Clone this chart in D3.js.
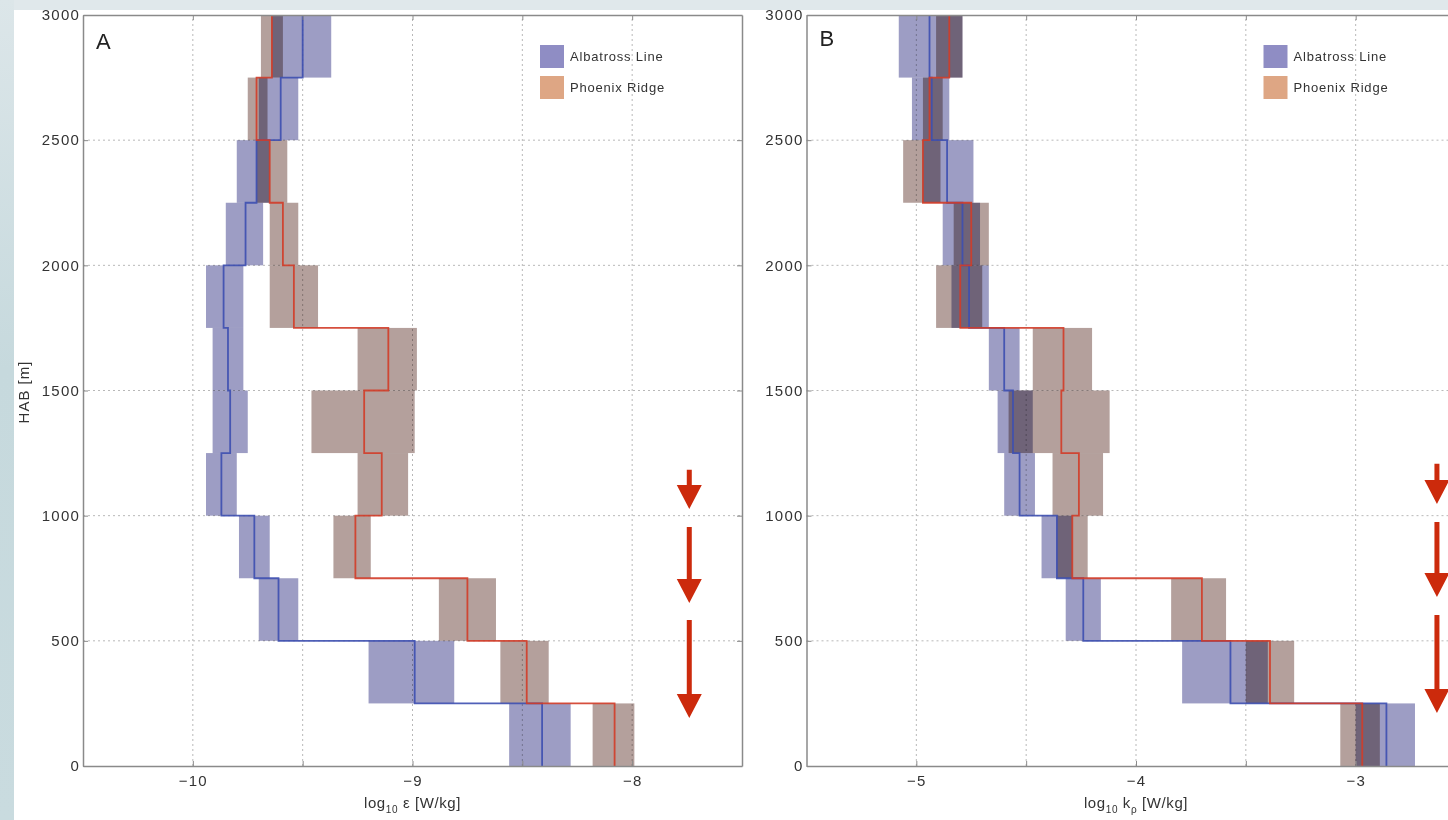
<!DOCTYPE html>
<html lang="en">
<head>
<meta charset="UTF-8">
<title>Dissipation and diffusivity profiles</title>
<style>
    body { margin: 0; padding: 0; background: #fff; }
    svg { display: block; font-family: "Liberation Sans", Arial, sans-serif; }
    .tick text { fill: #333; letter-spacing: 1.2px; }
    .axis path, .axis line { stroke: #8a8a8a; }
    .axis path { stroke-width: 1.5px; }
    .grid line { stroke: #b8b8b8; stroke-dasharray: 2,3; }
    .band { mix-blend-mode: multiply; }
</style>
</head>
<body>
<svg id="chart" width="1448" height="820"></svg>
<script src="https://d3js.org/d3.v7.min.js"></script>
<script>
    // bin edges, height above bottom [m]
    const habEdges = [0, 250, 500, 750, 1000, 1250, 1500, 1750, 2000, 2250, 2500, 2750, 3000];
    const habTicks = [0, 500, 1000, 1500, 2000, 2500, 3000];

    const seriesNames = ["Albatross Line", "Phoenix Ridge"];

    // panel A : log10 epsilon, bottom bin first
    const epsTicks = [-10, -9.5, -9, -8.5, -8];
    const epsLabels = ["−10", "", "−9", "", "−8"];
    const epsAlbLo  = [-8.56, -9.20, -9.70, -9.79, -9.94, -9.91, -9.91, -9.94, -9.85, -9.80, -9.70, -9.64];
    const epsAlbMed = [-8.41, -8.99, -9.61, -9.72, -9.87, -9.83, -9.84, -9.86, -9.76, -9.71, -9.60, -9.50];
    const epsAlbHi  = [-8.28, -8.81, -9.52, -9.65, -9.80, -9.75, -9.77, -9.77, -9.68, -9.65, -9.52, -9.37];
    const epsPhxLo  = [-8.18, -8.60, -8.88, -9.36, -9.25, -9.46, -9.25, -9.65, -9.65, -9.71, -9.75, -9.69];
    const epsPhxMed = [-8.08, -8.48, -8.75, -9.26, -9.14, -9.22, -9.11, -9.54, -9.59, -9.65, -9.71, -9.64];
    const epsPhxHi  = [-7.99, -8.38, -8.62, -9.19, -9.02, -8.99, -8.98, -9.43, -9.52, -9.57, -9.66, -9.59];

    // panel B : log10 k_rho, bottom bin first
    const kTicks = [-5, -4.5, -4, -3.5, -3, -2.5];
    const kLabels = ["−5", "", "−4", "", "−3", ""];
    const kAlbLo  = [-3.00, -3.79, -4.32, -4.43, -4.60, -4.63, -4.67, -4.84, -4.88, -4.97, -5.02, -5.08];
    const kAlbMed = [-2.86, -3.57, -4.24, -4.36, -4.53, -4.56, -4.60, -4.76, -4.79, -4.86, -4.93, -4.94];
    const kAlbHi  = [-2.73, -3.40, -4.16, -4.29, -4.46, -4.47, -4.53, -4.67, -4.71, -4.74, -4.85, -4.79];
    const kPhxLo  = [-3.07, -3.50, -3.84, -4.36, -4.38, -4.58, -4.47, -4.91, -4.83, -5.06, -4.97, -4.91];
    const kPhxMed = [-2.97, -3.39, -3.70, -4.29, -4.26, -4.34, -4.33, -4.80, -4.75, -4.97, -4.94, -4.85];
    const kPhxHi  = [-2.89, -3.28, -3.59, -4.22, -4.15, -4.12, -4.20, -4.70, -4.67, -4.89, -4.88, -4.79];

    // red arrows: [x, top, tip] in data units
    const arrowsA = [[-7.74, 1183, 1027], [-7.74, 955, 651], [-7.74, 583, 192]];
    const arrowsB = [[-2.63, 1207, 1047], [-2.63, 975, 675], [-2.63, 603, 212]];

    const bandColor = ["#9d9dc4", "#b4a09c"];
    const lineColor = ["#3d4fb0", "#d23c28"];
    const swatchColor = ["#8f8dc4", "#dea684"];

    const svg = d3.select("#chart");

    // page background
    const grad = svg.append("defs").append("linearGradient")
        .attr("id", "side").attr("x1", 0).attr("y1", 0).attr("x2", 0).attr("y2", 1);
    grad.append("stop").attr("offset", "0%").attr("stop-color", "#dce6e9");
    grad.append("stop").attr("offset", "45%").attr("stop-color", "#c6d9dd");
    grad.append("stop").attr("offset", "100%").attr("stop-color", "#c9dbdf");

    svg.append("rect").attr("width", 1448).attr("height", 820).attr("fill", "#fff");

    const y = d3.scaleLinear().domain([0, 3000]).range([766, 15]);

    function drawPanel(p) {
        const x = d3.scaleLinear().domain(p.domain).range(p.range);
        const g = svg.append("g");
        const x0 = p.range[0], x1 = p.range[1];

        // grid
        const grid = g.append("g").attr("class", "grid");
        grid.selectAll(".gx").data(p.ticks).enter().append("line")
            .attr("x1", d => x(d)).attr("x2", d => x(d))
            .attr("y1", y(0)).attr("y2", y(3000));
        grid.selectAll(".gy").data(habTicks.slice(1, -1)).enter().append("line")
            .attr("x1", x0).attr("x2", x1)
            .attr("y1", d => y(d)).attr("y2", d => y(d));

        // bands
        const bands = g.append("g");
        p.series.forEach((s, k) => {
            bands.selectAll(".b" + k).data(s.lo).enter().append("rect")
                .attr("class", "band")
                .attr("x", (d, i) => x(Math.min(s.lo[i], s.hi[i])))
                .attr("width", (d, i) => Math.abs(x(s.hi[i]) - x(s.lo[i])))
                .attr("y", (d, i) => y(habEdges[i + 1]))
                .attr("height", (d, i) => y(habEdges[i]) - y(habEdges[i + 1]))
                .attr("fill", bandColor[k]);
        });

        // median step lines
        const line = d3.line().x(d => x(d[0])).y(d => y(d[1]));
        p.series.forEach((s, k) => {
            const pts = [];
            s.med.forEach((m, i) => {
                pts.push([m, habEdges[i]]);
                pts.push([m, habEdges[i + 1]]);
            });
            g.append("path").datum(pts)
                .attr("d", line)
                .attr("fill", "none")
                .attr("stroke", lineColor[k])
                .attr("stroke-width", 1.8)
                .attr("opacity", 0.9);
        });

        // axes
        g.append("g").attr("class", "axis")
            .attr("transform", "translate(0," + y(0) + ")")
            .call(d3.axisBottom(x).tickValues(p.ticks).tickSize(-5).tickSizeOuter(0).tickPadding(9)
                .tickFormat((d, i) => p.labels[i]));
        g.append("g").attr("class", "axis")
            .attr("transform", "translate(0," + y(3000) + ")")
            .call(d3.axisTop(x).tickValues(p.ticks).tickSize(-5).tickSizeOuter(0).tickFormat(""));
        g.append("g").attr("class", "axis")
            .attr("transform", "translate(" + x0 + ",0)")
            .call(d3.axisLeft(y).tickValues(habTicks).tickSize(-5).tickSizeOuter(0).tickPadding(3)
                .tickFormat(d3.format("d")));
        g.append("g").attr("class", "axis")
            .attr("transform", "translate(" + x1 + ",0)")
            .call(d3.axisRight(y).tickValues(habTicks).tickSize(-5).tickSizeOuter(0).tickFormat(""));
        g.selectAll(".axis .tick text").style("font-size", "15px");

        // panel letter
        g.append("text")
            .attr("x", x0 + 13).attr("y", p.letterY)
            .attr("font-size", 22).attr("fill", "#222")
            .text(p.letter);

        // legend
        const leg = g.append("g").attr("transform", "translate(" + (x0 + 457) + ",45)");
        seriesNames.forEach((name, k) => {
            leg.append("rect").attr("x", 0).attr("y", k * 31)
                .attr("width", 24).attr("height", 23)
                .attr("fill", swatchColor[k]);
            leg.append("text").attr("x", 30).attr("y", k * 31 + 16)
                .attr("font-size", 13).attr("letter-spacing", 0.8).attr("fill", "#333")
                .text(name);
        });

        // x label
        const lab = g.append("text")
            .attr("x", (x0 + x1) / 2).attr("y", 808)
            .attr("text-anchor", "middle")
            .attr("font-size", 15).attr("letter-spacing", 0.6).attr("fill", "#333");
        lab.append("tspan").text("log");
        lab.append("tspan").attr("dy", 5).attr("font-size", 10).text("10");
        lab.append("tspan").attr("dy", -5).text(" " + p.sym);
        if (p.sub) {
            lab.append("tspan").attr("dy", 5).attr("font-size", 10).text(p.sub);
            lab.append("tspan").attr("dy", -5).text(" [W/kg]");
        } else {
            lab.append("tspan").text(" [W/kg]");
        }

        // arrows
        p.arrows.forEach(a => {
            const cx = x(a[0]), yt = y(a[1]), yp = y(a[2]);
            const hh = 24, hw = 12.5, sw = 2.5;
            g.append("path")
                .attr("d", "M" + (cx - sw) + "," + yt + "L" + (cx + sw) + "," + yt +
                    "L" + (cx + sw) + "," + (yp - hh) + "L" + (cx + hw) + "," + (yp - hh) +
                    "L" + cx + "," + yp + "L" + (cx - hw) + "," + (yp - hh) +
                    "L" + (cx - sw) + "," + (yp - hh) + "Z")
                .attr("fill", "#cc2a0c");
        });
    }

    drawPanel({
        domain: [-10.5, -7.5], range: [83, 742],
        ticks: epsTicks, labels: epsLabels,
        series: [
            { lo: epsAlbLo, med: epsAlbMed, hi: epsAlbHi },
            { lo: epsPhxLo, med: epsPhxMed, hi: epsPhxHi }
        ],
        letter: "A", letterY: 49, sym: "ε", sub: null,
        arrows: arrowsA
    });

    drawPanel({
        domain: [-5.5, -2.5], range: [806.5, 1465.5],
        ticks: kTicks, labels: kLabels,
        series: [
            { lo: kAlbLo, med: kAlbMed, hi: kAlbHi },
            { lo: kPhxLo, med: kPhxMed, hi: kPhxHi }
        ],
        letter: "B", letterY: 46, sym: "k", sub: "ρ",
        arrows: arrowsB
    });

    // y label
    svg.append("text")
        .attr("transform", "translate(29,392) rotate(-90)")
        .attr("text-anchor", "middle")
        .attr("font-size", 15).attr("letter-spacing", 1).attr("fill", "#333")
        .text("HAB [m]");

    // frame strips
    svg.append("rect").attr("x", 0).attr("y", 0).attr("width", 1448).attr("height", 10).attr("fill", "#e0e8eb");
    svg.append("rect").attr("x", 0).attr("y", 0).attr("width", 14).attr("height", 820).attr("fill", "url(#side)");
</script>
</body>
</html>
